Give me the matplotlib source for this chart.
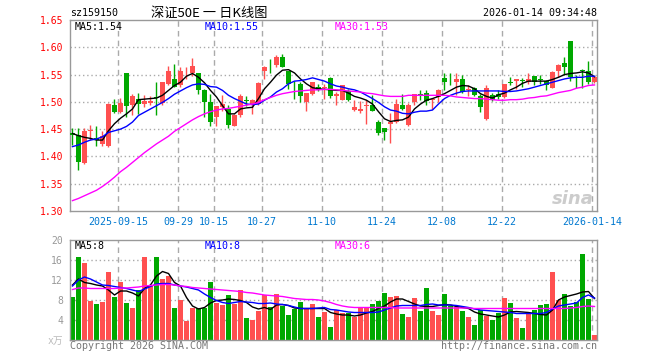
import numpy as np
import matplotlib
matplotlib.use('Agg')
import matplotlib.pyplot as plt

plt.rcParams['font.family'] = ['DejaVu Sans Mono', 'Noto Sans CJK SC']

# ---------------- data ----------------
opens = [1.443, 1.439, 1.388, 1.446, 1.433, 1.423, 1.420, 1.495, 1.482, 1.552,
         1.495, 1.506, 1.496, 1.498, 1.509, 1.498, 1.532, 1.542, 1.530, 1.552,
         1.553, 1.552, 1.522, 1.499, 1.472, 1.491, 1.487, 1.456, 1.475, 1.503,
         1.495, 1.496, 1.556, 1.561, 1.568, 1.583, 1.556, 1.535, 1.533, 1.500,
         1.515, 1.527, 1.526, 1.544, 1.510, 1.503, 1.520, 1.485, 1.483, 1.493,
         1.495, 1.464, 1.452, 1.460, 1.463, 1.495, 1.458, 1.499, 1.515, 1.516,
         1.503, 1.509, 1.544, 1.537, 1.536, 1.541, 1.521, 1.525, 1.510, 1.469,
         1.512, 1.515, 1.509, 1.536, 1.538, 1.540, 1.536, 1.547, 1.541, 1.539,
         1.526, 1.556, 1.572, 1.611, 1.548, 1.558, 1.556, 1.536]
highs = [1.452, 1.452, 1.452, 1.458, 1.456, 1.447, 1.497, 1.506, 1.507, 1.552,
         1.515, 1.517, 1.512, 1.510, 1.536, 1.536, 1.565, 1.570, 1.564, 1.564,
         1.581, 1.553, 1.523, 1.515, 1.493, 1.513, 1.495, 1.478, 1.515, 1.510,
         1.505, 1.536, 1.565, 1.579, 1.585, 1.587, 1.556, 1.539, 1.537, 1.516,
         1.537, 1.533, 1.533, 1.545, 1.518, 1.531, 1.524, 1.503, 1.501, 1.503,
         1.512, 1.467, 1.452, 1.480, 1.506, 1.515, 1.498, 1.515, 1.521, 1.522,
         1.507, 1.524, 1.552, 1.552, 1.552, 1.549, 1.530, 1.527, 1.515, 1.530,
         1.516, 1.521, 1.533, 1.545, 1.541, 1.544, 1.552, 1.547, 1.550, 1.540,
         1.556, 1.569, 1.582, 1.611, 1.550, 1.560, 1.575, 1.548]
lows = [1.421, 1.376, 1.386, 1.430, 1.419, 1.420, 1.418, 1.479, 1.479, 1.473,
        1.476, 1.478, 1.491, 1.495, 1.476, 1.495, 1.530, 1.527, 1.527, 1.542,
        1.547, 1.515, 1.472, 1.456, 1.456, 1.483, 1.452, 1.455, 1.472, 1.493,
        1.477, 1.495, 1.541, 1.552, 1.564, 1.563, 1.524, 1.506, 1.500, 1.484,
        1.512, 1.520, 1.506, 1.507, 1.495, 1.503, 1.501, 1.484, 1.480, 1.460,
        1.483, 1.440, 1.430, 1.425, 1.461, 1.485, 1.456, 1.495, 1.503, 1.495,
        1.487, 1.499, 1.521, 1.530, 1.512, 1.516, 1.510, 1.510, 1.481, 1.467,
        1.501, 1.506, 1.507, 1.530, 1.524, 1.527, 1.533, 1.530, 1.533, 1.521,
        1.525, 1.545, 1.549, 1.539, 1.526, 1.526, 1.533, 1.534]
closes = [1.440, 1.390, 1.447, 1.448, 1.430, 1.438, 1.496, 1.482, 1.498, 1.493,
          1.511, 1.496, 1.501, 1.501, 1.507, 1.536, 1.556, 1.528, 1.556, 1.553,
          1.565, 1.522, 1.499, 1.464, 1.493, 1.496, 1.458, 1.475, 1.510, 1.501,
          1.504, 1.535, 1.564, 1.560, 1.583, 1.564, 1.533, 1.534, 1.511, 1.516,
          1.536, 1.522, 1.528, 1.510, 1.514, 1.531, 1.503, 1.491, 1.487, 1.493,
          1.484, 1.443, 1.445, 1.464, 1.496, 1.487, 1.495, 1.515, 1.510, 1.501,
          1.506, 1.521, 1.537, 1.536, 1.541, 1.518, 1.524, 1.512, 1.491, 1.526,
          1.504, 1.509, 1.533, 1.535, 1.541, 1.539, 1.542, 1.537, 1.540, 1.530,
          1.555, 1.567, 1.564, 1.545, 1.547, 1.557, 1.536, 1.545]

ma5 = [1.442, 1.438, 1.435, 1.433, 1.430, 1.430, 1.447, 1.460, 1.470, 1.478,
       1.487, 1.504, 1.505, 1.506, 1.507, 1.512, 1.521, 1.530, 1.536, 1.547,
       1.552, 1.545, 1.535, 1.521, 1.509, 1.493, 1.478, 1.478, 1.487, 1.489,
       1.490, 1.506, 1.524, 1.536, 1.549, 1.558, 1.559, 1.553, 1.542, 1.533,
       1.526, 1.524, 1.523, 1.522, 1.521, 1.521, 1.516, 1.510, 1.507, 1.503,
       1.496, 1.482, 1.469, 1.464, 1.466, 1.467, 1.472, 1.487, 1.496, 1.503,
       1.506, 1.510, 1.515, 1.521, 1.527, 1.530, 1.529, 1.524, 1.515, 1.510,
       1.507, 1.513, 1.516, 1.522, 1.527, 1.534, 1.538, 1.538, 1.538, 1.538,
       1.541, 1.545, 1.550, 1.552, 1.553, 1.555, 1.553, 1.546]
ma10 = [1.418, 1.421, 1.426, 1.430, 1.432, 1.436, 1.444, 1.447, 1.450, 1.455,
        1.463, 1.475, 1.481, 1.487, 1.493, 1.499, 1.506, 1.514, 1.520, 1.526,
        1.531, 1.533, 1.532, 1.528, 1.527, 1.521, 1.512, 1.506, 1.501, 1.496,
        1.495, 1.496, 1.503, 1.509, 1.518, 1.524, 1.533, 1.538, 1.539, 1.541,
        1.544, 1.541, 1.538, 1.533, 1.529, 1.527, 1.524, 1.522, 1.518, 1.512,
        1.506, 1.499, 1.491, 1.485, 1.483, 1.479, 1.478, 1.481, 1.483, 1.483,
        1.485, 1.496, 1.506, 1.512, 1.516, 1.519, 1.520, 1.520, 1.520, 1.520,
        1.520, 1.520, 1.519, 1.519, 1.520, 1.522, 1.524, 1.527, 1.530, 1.533,
        1.536, 1.539, 1.542, 1.544, 1.545, 1.545, 1.547, 1.547]
ma30 = [1.319, 1.323, 1.328, 1.333, 1.338, 1.345, 1.353, 1.362, 1.372, 1.380,
        1.389, 1.398, 1.407, 1.415, 1.423, 1.430, 1.437, 1.446, 1.453, 1.460,
        1.467, 1.473, 1.478, 1.482, 1.485, 1.487, 1.488, 1.490, 1.492, 1.494,
        1.496, 1.499, 1.504, 1.508, 1.512, 1.515, 1.517, 1.519, 1.520, 1.521,
        1.522, 1.522, 1.523, 1.523, 1.522, 1.521, 1.520, 1.519, 1.518, 1.516,
        1.515, 1.513, 1.511, 1.510, 1.510, 1.510, 1.512, 1.512, 1.512, 1.512,
        1.512, 1.512, 1.512, 1.511, 1.509, 1.508, 1.507, 1.506, 1.506, 1.505,
        1.504, 1.503, 1.503, 1.504, 1.504, 1.505, 1.507, 1.508, 1.510, 1.511,
        1.514, 1.517, 1.519, 1.521, 1.525, 1.527, 1.530, 1.531]

volumes = [8.7, 16.7, 15.5, 7.9, 7.2, 7.7, 13.7, 8.7, 11.7, 7.5,
           6.5, 10.0, 16.7, 10.8, 16.7, 12.2, 12.8, 6.5, 8.0, 3.9,
           6.5, 6.5, 6.5, 11.7, 7.5, 7.0, 9.0, 7.3, 10.0, 4.5,
           4.0, 5.9, 9.0, 6.7, 9.3, 6.8, 5.0, 6.3, 7.6, 6.5,
           7.2, 4.7, 5.6, 2.7, 6.0, 5.5, 5.5, 4.7, 6.5, 6.5,
           7.2, 7.9, 9.4, 8.6, 8.8, 5.2, 4.6, 8.4, 5.8, 10.4,
           5.8, 5.0, 9.2, 6.8, 6.7, 5.8, 4.6, 3.0, 6.0, 4.9,
           4.0, 5.5, 8.4, 7.4, 4.4, 2.4, 5.5, 6.0, 7.0, 7.2,
           13.6, 8.0, 9.2, 6.8, 7.6, 17.2, 8.2, 1.0]
vma5 = [11.0, 12.2, 11.5, 11.3, 11.0, 10.8, 10.0, 9.0, 9.8, 9.8,
        9.4, 8.8, 10.3, 11.0, 12.8, 13.7, 13.3, 11.5, 10.8, 8.5,
        6.8, 6.2, 6.5, 7.4, 7.9, 8.0, 8.2, 8.1, 7.9, 7.5,
        6.6, 6.2, 6.5, 6.1, 7.0, 7.1, 6.9, 6.4, 6.3, 6.3,
        6.3, 6.3, 6.3, 5.5, 5.2, 5.0, 5.0, 4.8, 5.0, 5.4,
        5.7, 6.3, 6.8, 7.6, 8.2, 8.2, 7.7, 7.2, 6.8, 6.7,
        6.7, 6.9, 7.1, 7.0, 6.7, 6.5, 6.3, 5.6, 5.2, 5.0,
        4.8, 4.6, 5.0, 5.6, 5.7, 5.6, 5.5, 5.3, 5.1, 5.0,
        6.0, 8.0, 8.6, 8.9, 9.2, 9.6, 9.7, 8.3]
vma10 = [10.8, 12.0, 12.6, 12.2, 11.6, 11.0, 10.9, 10.7, 10.5, 10.3,
         10.0, 9.7, 10.2, 10.7, 11.2, 11.3, 11.3, 11.0, 10.8, 10.6,
         10.3, 10.0, 9.2, 8.5, 7.9, 7.5, 7.3, 7.5, 7.7, 7.6,
         7.5, 7.3, 7.3, 7.4, 7.2, 7.1, 6.9, 6.6, 6.3, 6.3,
         6.3, 6.4, 6.5, 6.1, 6.0, 5.8, 5.6, 5.5, 5.5, 5.5,
         5.5, 5.6, 6.0, 6.4, 6.8, 6.9, 6.9, 6.9, 6.9, 7.1,
         7.2, 7.0, 7.0, 7.0, 6.9, 6.7, 6.5, 6.2, 6.0, 5.9,
         5.8, 5.7, 5.6, 5.5, 5.3, 5.3, 5.3, 5.3, 5.3, 5.5,
         6.2, 6.8, 7.0, 7.2, 7.4, 8.5, 9.0, 8.4]
vma30 = [10.1, 10.4, 10.4, 10.3, 10.3, 10.3, 10.3, 10.3, 10.4, 10.4,
         10.5, 10.6, 10.8, 10.9, 11.0, 11.1, 11.1, 11.0, 10.8, 10.7,
         10.5, 10.4, 10.3, 10.2, 10.1, 10.0, 9.9, 9.8, 9.7, 9.5,
         9.4, 9.2, 9.0, 8.9, 8.8, 8.7, 8.5, 8.3, 8.2, 8.1,
         8.1, 8.0, 7.8, 7.5, 7.1, 6.8, 6.6, 6.5, 6.5, 6.5,
         6.5, 6.5, 6.5, 6.5, 6.4, 6.4, 6.4, 6.4, 6.4, 6.4,
         6.4, 6.4, 6.4, 6.4, 6.4, 6.4, 6.4, 6.3, 6.3, 6.3,
         6.3, 6.3, 6.3, 6.3, 6.3, 6.3, 6.3, 6.3, 6.3, 6.3,
         6.3, 6.3, 6.3, 6.4, 6.5, 6.7, 6.8, 6.7]

tick_idx = [8, 18, 24, 32, 42, 52, 62, 72, 87]
tick_lbl = ['2025-09-15', '09-29', '10-15', '10-27', '11-10', '11-24', '12-08', '12-22', '2026-01-14']
price_ticks = [1.30, 1.35, 1.40, 1.45, 1.50, 1.55, 1.60, 1.65]
vol_ticks = [4, 8, 12, 16, 20]
ma_price_lbl = ['MA5:1.54', 'MA10:1.55', 'MA30:1.53']
ma_vol_lbl = ['MA5:8', 'MA10:8', 'MA30:6']

# ---------------- style ----------------
RED = '#ff5050'
GREEN = '#00a800'
GRID = '#aaaaaa'
FRAME = '#999999'
W = 660.0
H = 360.0

o = np.array(opens); c = np.array(closes); hi = np.array(highs); lo = np.array(lows)
n = len(o)
x = np.arange(n)
bw = 0.83
xc = x + bw / 2
up = c >= o
cols = np.where(up, RED, GREEN)

fig = plt.figure(figsize=(6.6, 3.6), dpi=100)
fig.patch.set_facecolor('white')

ax = fig.add_axes([70 / W, 149 / H, 527 / W, 191 / H])
axv = fig.add_axes([70 / W, 20 / H, 527 / W, 100 / H])

for a in (ax, axv):
    a.set_xlim(0, 527 / 6.0)
    for s in a.spines.values():
        s.set_color(FRAME)
        s.set_linewidth(1)
    a.tick_params(length=0)
    for t in tick_idx:
        a.axvline(t, color=GRID, lw=1, ls=(0, (4, 3)), zorder=0)

# price panel
ax.set_ylim(1.30, 1.65)
for p in price_ticks[1:-1]:
    ax.axhline(p, color=GRID, lw=1, ls=(0, (1, 2)), zorder=0)
body_lo = np.minimum(o, c)
body_h = np.maximum(np.abs(c - o), 0.0008)
ax.vlines(xc, lo, hi, colors=cols, lw=1, zorder=2)
ax.bar(x, body_h, bottom=body_lo, width=bw, align='edge', color=cols, lw=0, zorder=3)
ax.plot(xc, ma5, color='black', lw=1, zorder=4)
ax.plot(xc, ma10, color='#0000ff', lw=1, zorder=4)
ax.plot(xc, ma30, color='#ff00ff', lw=1, zorder=4)
ax.set_yticks(price_ticks)
ax.set_yticklabels(['%.2f' % p for p in price_ticks], color='#ff0000', fontsize=7)
ax.set_xticks(tick_idx)
ax.set_xticklabels(tick_lbl, color='#0078d0', fontsize=7.2)
ax.tick_params(axis='x', pad=4)
ax.tick_params(axis='y', pad=5)

# volume panel
axv.set_ylim(0, 20)
for v in vol_ticks[:-1]:
    axv.axhline(v, color=GRID, lw=1, ls=(0, (1, 2)), zorder=0)
axv.bar(x, volumes, width=bw, align='edge', color=cols, lw=0, zorder=2)
axv.plot(xc, vma5, color='black', lw=1, zorder=3)
axv.plot(xc, vma10, color='#0000ff', lw=1, zorder=3)
axv.plot(xc, vma30, color='#ff00ff', lw=1, zorder=3)
axv.set_yticks(vol_ticks)
axv.set_yticklabels([str(v) for v in vol_ticks], color='#999999', fontsize=7)
axv.tick_params(axis='y', pad=5)
axv.set_xticks([])

# texts
def ftext(px, py, s, **kw):
    fig.text(px / W, 1 - py / H, s, va='center', **kw)

ftext(70, 13, 'sz159150', color='black', fontsize=7.2)
ftext(209, 13, '深证50E 一 日K线图', color='black', fontsize=9.5, ha='center',
      family=['Noto Sans CJK SC', 'DejaVu Sans'])
ftext(597, 13, '2026-01-14 09:34:48', color='black', fontsize=7.2, ha='right')

ma_cols = ['black', '#0000ff', '#ff00ff']
for px, lbl, cl in zip([75, 205, 335], ma_price_lbl, ma_cols):
    ftext(px, 27, lbl, color=cl, fontsize=7.2)
for px, lbl, cl in zip([75, 205, 335], ma_vol_lbl, ma_cols):
    ftext(px, 246, lbl, color=cl, fontsize=7.2)

ftext(63, 341, 'x万', color='#bbbbbb', fontsize=7, ha='right',
      family=['DejaVu Sans Mono', 'Noto Sans CJK SC'])
ftext(70, 346, 'Copyright 2026 SINA.COM', color='#777777', fontsize=7.2)
ftext(597, 346, 'http://finance.sina.com.cn', color='#777777', fontsize=7.2, ha='right')
ftext(594, 199, 'sina', color='#cccccc', fontsize=13, ha='right',
      family='DejaVu Sans', fontweight='bold', style='italic')

fig.savefig('out.png', dpi=100, facecolor='white')
